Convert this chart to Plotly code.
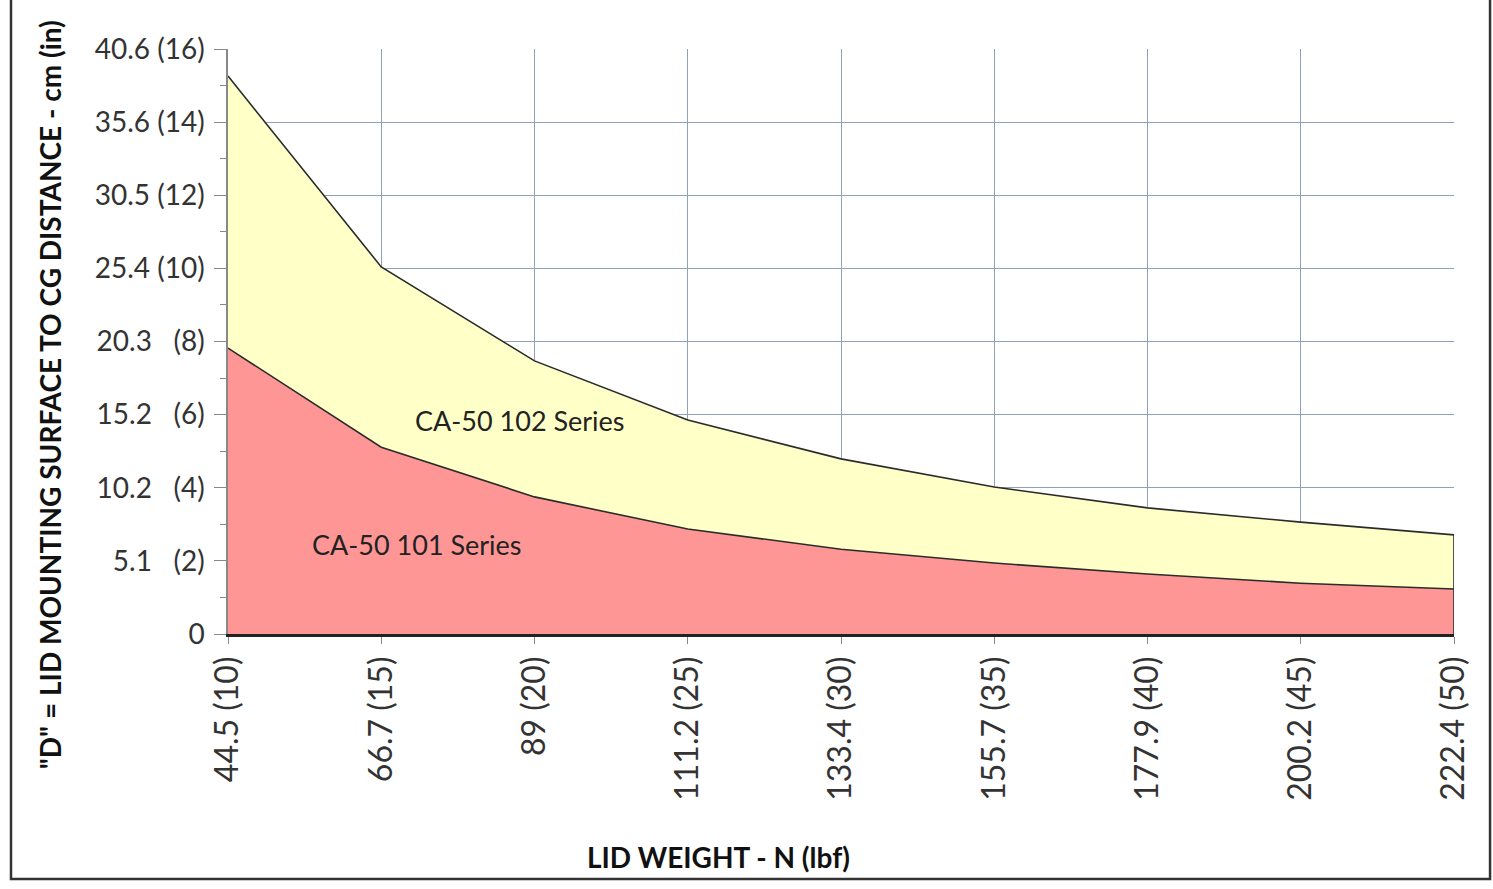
import plotly.graph_objects as go

categories = ["44.5 (10)", "66.7 (15)", "89 (20)", "111.2 (25)", "133.4 (30)",
              "155.7 (35)", "177.9 (40)", "200.2 (45)", "222.4 (50)"]
series_101 = [7.82, 5.11, 3.75, 2.87, 2.32, 1.94, 1.64, 1.39, 1.23]
series_102 = [15.26, 10.04, 7.47, 5.85, 4.79, 4.02, 3.45, 3.06, 2.71]
y_tickvals = [0, 2, 4, 6, 8, 10, 12, 14, 16]
y_ticktext = ["0", "5.1\u00a0\u00a0 (2)", "10.2\u00a0\u00a0 (4)", "15.2\u00a0\u00a0 (6)", "20.3\u00a0\u00a0 (8)",
              "25.4 (10)", "30.5 (12)", "35.6 (14)", "40.6 (16)"]

xs = list(range(len(categories)))
FONT = "Lato"
GRID = "#8FA2B8"

fig = go.Figure()
fig.add_trace(go.Scatter(x=xs, y=series_101, mode="lines", fill="tozeroy",
                         fillcolor="#FF9696", line=dict(color="#2b2b2b", width=1.6),
                         name="CA-50 101 Series", showlegend=False))
fig.add_trace(go.Scatter(x=xs, y=series_102, mode="lines", fill="tonexty",
                         fillcolor="#FFFFC8", line=dict(color="#2b2b2b", width=1.6),
                         name="CA-50 102 Series", showlegend=False))
# right edge outline of the areas
fig.add_trace(go.Scatter(x=[xs[-1], xs[-1]], y=[0, series_102[-1]], mode="lines",
                         line=dict(color="#2b2b2b", width=1.6), showlegend=False,
                         hoverinfo="skip"))

fig.add_annotation(x=1.905, y=5.85, text="CA-50 102 Series", showarrow=False,
                   font=dict(family=FONT, size=27, color="#222222"))
fig.add_annotation(x=1.232, y=2.45, text="CA-50 101 Series", showarrow=False,
                   font=dict(family=FONT, size=27, color="#222222"))

fig.add_annotation(xref="paper", yref="paper", x=-0.145, y=0.4085,
                   xanchor="center", yanchor="middle",
                   text="<b>\"D\" = LID MOUNTING SURFACE TO CG DISTANCE - cm (in)</b>",
                   textangle=-90, showarrow=False,
                   font=dict(family=FONT, size=28, color="#111111"))
fig.add_annotation(xref="paper", yref="paper", x=0.4, y=-0.381,
                   xanchor="center", yanchor="middle",
                   text="<b>LID WEIGHT - N (lbf)</b>", showarrow=False,
                   font=dict(family=FONT, size=28, color="#111111"))

# outer frame
fig.add_shape(type="rect", xref="paper", yref="paper",
              x0=-0.177, x1=1.0294, y0=-0.4188, y1=1.3,
              line=dict(color="#333333", width=2.5), fillcolor="rgba(0,0,0,0)",
              layer="below")

fig.update_xaxes(range=[0, 8], tickmode="array", tickvals=xs, ticktext=categories,
                 tickangle=-90, showgrid=True, gridcolor=GRID, gridwidth=1.2,
                 showline=True, linecolor="#222222", linewidth=2.5,
                 ticks="outside", ticklen=7, tickcolor="#888888",
                 tickfont=dict(family=FONT, size=32, color="#333333"),
                 zeroline=False, fixedrange=True)
fig.update_yaxes(range=[0, 16], tickmode="array", tickvals=y_tickvals, ticktext=y_ticktext,
                 showgrid=True, gridcolor=GRID, gridwidth=1.2,
                 showline=True, linecolor="#888888", linewidth=1.5,
                 ticks="outside", ticklen=12, tickcolor="#888888",
                 ticklabelstandoff=4,
                 minor=dict(ticks="outside", ticklen=6, dtick=1, tickcolor="#888888", showgrid=False),
                 tickfont=dict(family=FONT, size=28, color="#333333"),
                 zeroline=False, fixedrange=True)

fig.update_layout(width=1493, height=889, autosize=False,
                  margin=dict(l=228, r=39, t=49, b=255),
                  paper_bgcolor="white", plot_bgcolor="white",
                  font=dict(family=FONT))

fig.write_html("out.html", config={"displayModeBar": False},
               post_script="document.body.style.margin='0';document.body.style.overflow='hidden';")
